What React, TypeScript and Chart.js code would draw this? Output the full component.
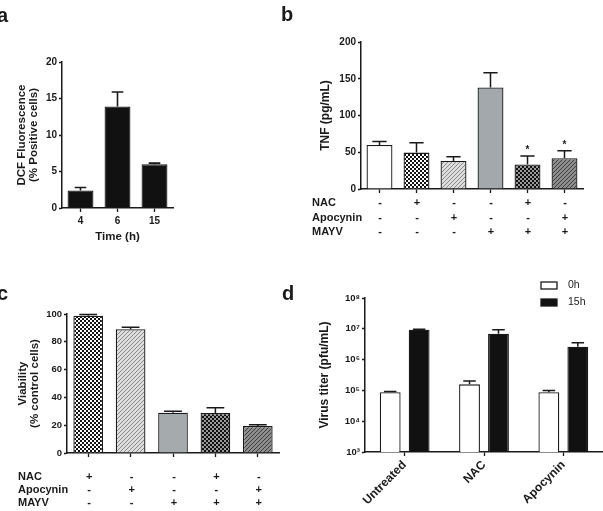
import React, { useEffect, useRef } from "react";
import { Chart, registerables } from "chart.js";

Chart.register(...registerables);

const FONT = "'Liberation Sans', Arial, Helvetica, sans-serif";
const INK = "#1a1a1a";

// ---- Panel a ----
const timeLabels = ["4", "6", "15"];
const dcfValues = [2.4, 13.9, 6.0];
const dcfErrors = [0.4, 2.0, 0.15];

// ---- Panel b ----
const tnfCategories = ["1", "2", "3", "4", "5", "6"];
const tnfValues = [60, 49.5, 38, 138, 33.5, 42];
const tnfErrors = [4.5, 13.5, 6, 20, 11.5, 10];
const tnfStars = ["", "", "", "", "*", "*"];
const nacB = ["-", "+", "-", "-", "+", "-"];
const apoB = ["-", "-", "+", "-", "-", "+"];
const mayvB = ["-", "-", "-", "+", "+", "+"];

// ---- Panel c ----
const viaCategories = ["1", "2", "3", "4", "5"];
const viaValues = [98.8, 89, 29, 28.8, 19.4];
const viaErrors = [0.8, 1.4, 1.0, 3.8, 1.0];
const nacC = ["+", "-", "-", "+", "-"];
const apoC = ["-", "+", "-", "-", "+"];
const mayvC = ["-", "-", "+", "+", "+"];

// ---- Panel d ----
const treatments = ["Untreated", "NAC", "Apocynin"];
const titer0h = [8.7e4, 1.57e5, 8.7e4];
const titer0hErr = [0.5e4, 0.45e5, 1.2e4];
const titer15h = [9.3e6, 6.9e6, 2.6e6];
const titer15hErr = [0.4e6, 2.5e6, 0.9e6];
const logTicks = [1e3, 1e4, 1e5, 1e6, 1e7, 1e8];
const SUP = ["⁰", "¹", "²", "³", "⁴", "⁵", "⁶", "⁷", "⁸", "⁹"];

Chart.defaults.font.family = FONT;

function makePattern(ctx: CanvasRenderingContext2D, kind: string): CanvasPattern {
  const t = document.createElement("canvas");
  const s = 4;
  t.width = s;
  t.height = s;
  const g = t.getContext("2d")!;
  if (kind === "checkLight" || kind === "checkDark") {
    g.fillStyle = kind === "checkLight" ? "#ffffff" : "#111111";
    g.fillRect(0, 0, s, s);
    g.fillStyle = kind === "checkLight" ? "#111111" : "#9a9a9a";
    g.fillRect(0, 0, 2, 2);
    g.fillRect(2, 2, 2, 2);
  } else {
    g.fillStyle = kind === "hatchLight" ? "#dedede" : "#8e8e8e";
    g.fillRect(0, 0, s, s);
    g.strokeStyle = kind === "hatchLight" ? "#8a8a8a" : "#3e3e3e";
    g.lineWidth = 1;
    g.beginPath();
    g.moveTo(-1, s + 1);
    g.lineTo(s + 1, -1);
    g.moveTo(-1, 1);
    g.lineTo(1, -1);
    g.moveTo(s - 1, s + 1);
    g.lineTo(s + 1, s - 1);
    g.stroke();
  }
  return ctx.createPattern(t, "repeat")!;
}

const errorPlugin = {
  id: "errbars",
  afterDatasetsDraw(chart: any, _a: any, opts: any) {
    const ctx = chart.ctx;
    chart.data.datasets.forEach((ds: any, di: number) => {
      if (!ds.errors) return;
      const meta = chart.getDatasetMeta(di);
      const ys = chart.scales[meta.yAxisID];
      meta.data.forEach((el: any, i: number) => {
        const v = ds.data[i];
        const e = ds.errors[i];
        const yTop = ys.getPixelForValue(v + e);
        const x = el.x;
        const w = el.width * (opts.cap ?? 0.5);
        ctx.save();
        ctx.strokeStyle = INK;
        ctx.lineWidth = opts.lineWidth ?? 1.5;
        ctx.beginPath();
        ctx.moveTo(x, el.y);
        ctx.lineTo(x, yTop);
        ctx.moveTo(x - w / 2, yTop);
        ctx.lineTo(x + w / 2, yTop);
        ctx.stroke();
        if (ds.stars && ds.stars[i]) {
          ctx.fillStyle = INK;
          ctx.font = `bold 10px ${FONT}`;
          ctx.textAlign = "center";
          ctx.textBaseline = "alphabetic";
          ctx.fillText(ds.stars[i], x, yTop - 3);
        }
        ctx.restore();
      });
    });
  },
};

const rowsPlugin = {
  id: "rows",
  afterDraw(chart: any, _a: any, opts: any) {
    if (!opts || !opts.rows) return;
    const ctx = chart.ctx;
    const xs = chart.scales.x;
    const base = chart.chartArea.bottom;
    ctx.save();
    ctx.fillStyle = INK;
    ctx.textBaseline = "middle";
    opts.rows.forEach((row: any, r: number) => {
      const y = base + opts.offsets[r];
      ctx.font = `bold ${opts.labelSize}px ${FONT}`;
      ctx.textAlign = "left";
      ctx.fillText(row.label, opts.labelX, y);
      ctx.font = `bold ${opts.markSize}px ${FONT}`;
      ctx.textAlign = "center";
      row.marks.forEach((m: string, i: number) => {
        ctx.fillText(m, xs.getPixelForValue(i) + opts.dx, y);
      });
    });
    ctx.restore();
  },
};

const boxLegendPlugin = {
  id: "boxLegend",
  afterDraw(chart: any, _a: any, opts: any) {
    if (!opts || opts.x === undefined) return;
    const ctx = chart.ctx;
    ctx.save();
    chart.data.datasets.forEach((ds: any, i: number) => {
      const y = opts.y + i * opts.gap;
      ctx.fillStyle = ds.backgroundColor;
      ctx.fillRect(opts.x, y, opts.w, opts.h);
      ctx.strokeStyle = INK;
      ctx.lineWidth = 1.3;
      ctx.strokeRect(opts.x, y, opts.w, opts.h);
      ctx.fillStyle = INK;
      ctx.font = `${opts.size}px ${FONT}`;
      ctx.textAlign = "left";
      ctx.textBaseline = "middle";
      ctx.fillText(ds.label, opts.textX, y + opts.h / 2);
    });
    ctx.restore();
  },
};

const tickFont = (size: number) => ({ family: FONT, size, weight: "bold" as const });
const titleFont = (size: number) => ({ family: FONT, size, weight: "bold" as const, lineHeight: 1.05 });

function yAxis(width: number, title: string | string[], titleSize: number, tickSize: number, extra: any) {
  return {
    afterFit: (s: any) => {
      s.width = width;
    },
    grid: { drawOnChartArea: false, drawTicks: true, tickLength: 3, tickWidth: 1.3, tickColor: INK },
    border: { display: true, color: INK, width: 1.5 },
    ticks: { color: INK, font: tickFont(tickSize), padding: 2 },
    title: { display: true, text: title, color: INK, font: titleFont(titleSize), padding: 0 },
    ...extra,
  };
}

function xAxis(height: number, extra: any) {
  return {
    afterFit: (s: any) => {
      s.height = height;
    },
    offset: true,
    grid: { offset: false, drawOnChartArea: false, drawTicks: true, tickLength: 4, tickWidth: 1.3, tickColor: INK },
    border: { display: true, color: INK, width: 1.5 },
    ...extra,
  };
}

const basePlugins = { legend: { display: false }, tooltip: { enabled: false } };

function buildA(_ctx: CanvasRenderingContext2D) {
  return {
    type: "bar",
    data: {
      labels: timeLabels,
      datasets: [
        {
          data: dcfValues,
          errors: dcfErrors,
          backgroundColor: "#111111",
          borderColor: INK,
          borderWidth: 1.2,
          categoryPercentage: 1,
          barPercentage: 0.7,
        },
      ],
    },
    options: {
      animation: false,
      responsive: false,
      devicePixelRatio: 1,
      layout: { padding: { left: 16, top: 62, right: 27, bottom: 7 } },
      plugins: { ...basePlugins, errbars: { cap: 0.45, lineWidth: 1.6 } },
      scales: {
        x: xAxis(35, {
          ticks: { color: INK, font: tickFont(10), padding: 3 },
          title: { display: true, text: "Time (h)", color: INK, font: titleFont(11.5), padding: 0 },
        }),
        y: yAxis(46, ["DCF Fluorescence", "(% Positive cells)"], 11.5, 10, {
          min: 0,
          max: 20,
          ticks: { color: INK, font: tickFont(10), padding: 2, stepSize: 5 },
        }),
      },
    },
    plugins: [errorPlugin],
  };
}

function buildB(ctx: CanvasRenderingContext2D) {
  const fills = [
    "#ffffff",
    makePattern(ctx, "checkLight"),
    makePattern(ctx, "hatchLight"),
    "#a2a8ab",
    makePattern(ctx, "checkDark"),
    makePattern(ctx, "hatchDark"),
  ];
  return {
    type: "bar",
    data: {
      labels: tnfCategories,
      datasets: [
        {
          data: tnfValues,
          errors: tnfErrors,
          stars: tnfStars,
          backgroundColor: fills,
          borderColor: INK,
          borderWidth: 1.3,
          categoryPercentage: 1,
          barPercentage: 0.7,
        },
      ],
    },
    options: {
      animation: false,
      responsive: false,
      devicePixelRatio: 1,
      layout: { padding: { left: 29.7, top: 42, right: 20, bottom: 51 } },
      plugins: {
        ...basePlugins,
        errbars: { cap: 0.55, lineWidth: 1.5 },
        rows: {
          labelX: 22,
          labelSize: 11,
          markSize: 11,
          dx: 0.5,
          offsets: [14, 29, 43],
          rows: [
            { label: "NAC", marks: nacB },
            { label: "Apocynin", marks: apoB },
            { label: "MAYV", marks: mayvB },
          ],
        },
      },
      scales: {
        x: xAxis(10, { ticks: { display: false } }),
        y: yAxis(41.3, "TNF (pg/mL)", 12, 10, {
          min: 0,
          max: 200,
          ticks: { color: INK, font: tickFont(10), padding: 2, stepSize: 50 },
        }),
      },
    },
    plugins: [errorPlugin, rowsPlugin],
  };
}

function buildC(ctx: CanvasRenderingContext2D) {
  const fills = [
    makePattern(ctx, "checkLight"),
    makePattern(ctx, "hatchLight"),
    "#a5aaad",
    makePattern(ctx, "checkDark"),
    makePattern(ctx, "hatchDark"),
  ];
  return {
    type: "bar",
    data: {
      labels: viaCategories,
      datasets: [
        {
          data: viaValues,
          errors: viaErrors,
          backgroundColor: fills,
          borderColor: INK,
          borderWidth: 1.3,
          categoryPercentage: 1,
          barPercentage: 0.7,
        },
      ],
    },
    options: {
      animation: false,
      responsive: false,
      devicePixelRatio: 1,
      layout: { padding: { left: 17, top: 54, right: 21, bottom: 48 } },
      plugins: {
        ...basePlugins,
        errbars: { cap: 0.6, lineWidth: 1.5 },
        rows: {
          labelX: 18,
          labelSize: 11,
          markSize: 11,
          dx: 1,
          offsets: [24, 37, 50],
          rows: [
            { label: "NAC", marks: nacC },
            { label: "Apocynin", marks: apoC },
            { label: "MAYV", marks: mayvC },
          ],
        },
      },
      scales: {
        x: xAxis(10, { ticks: { display: false } }),
        y: yAxis(50, ["Viability", "(% control cells)"], 11.5, 9.5, {
          min: 0,
          max: 100,
          ticks: { color: INK, font: tickFont(9.5), padding: 2, stepSize: 20 },
        }),
      },
    },
    plugins: [errorPlugin, rowsPlugin],
  };
}

function buildD(_ctx: CanvasRenderingContext2D) {
  return {
    type: "bar",
    data: {
      labels: treatments,
      datasets: [
        {
          label: "0h",
          data: titer0h,
          errors: titer0hErr,
          backgroundColor: "#ffffff",
          borderColor: INK,
          borderWidth: 1.3,
          categoryPercentage: 0.73,
          barPercentage: 0.72,
        },
        {
          label: "15h",
          data: titer15h,
          errors: titer15hErr,
          backgroundColor: "#111111",
          borderColor: INK,
          borderWidth: 1.3,
          categoryPercentage: 0.73,
          barPercentage: 0.72,
        },
      ],
    },
    options: {
      animation: false,
      responsive: false,
      devicePixelRatio: 1,
      layout: { padding: { left: 18.7, top: 38, right: 0, bottom: 0 } },
      plugins: {
        ...basePlugins,
        errbars: { cap: 0.6, lineWidth: 1.5 },
        boxLegend: { x: 241, y: 22, gap: 17, w: 16, h: 7, textX: 268, size: 10.5 },
      },
      scales: {
        x: xAxis(59, {
          ticks: { color: INK, font: tickFont(12), padding: 2, minRotation: 45, maxRotation: 45 },
        }),
        y: yAxis(46.3, "Virus titer (pfu/mL)", 12, 10, {
          type: "logarithmic",
          min: 1e3,
          max: 1e8,
          afterBuildTicks: (s: any) => {
            s.ticks = logTicks.map((v) => ({ value: v }));
          },
          ticks: {
            color: INK,
            font: tickFont(9.5),
            padding: 2,
            callback: (v: any) => "10" + SUP[Math.round(Math.log10(Number(v)))],
          },
        }),
      },
    },
    plugins: [errorPlugin, boxLegendPlugin],
  };
}

type Box = { left: number; top: number; width: number; height: number };

function ChartBox({ box, build }: { box: Box; build: (ctx: CanvasRenderingContext2D) => any }) {
  const ref = useRef<HTMLCanvasElement>(null);
  useEffect(() => {
    const canvas = ref.current!;
    const ctx = canvas.getContext("2d")!;
    const chart = new Chart(ctx, build(ctx));
    return () => chart.destroy();
  }, []);
  return (
    <canvas
      ref={ref}
      width={box.width}
      height={box.height}
      style={{ position: "absolute", left: box.left, top: box.top, width: box.width, height: box.height }}
    />
  );
}

const letterStyle = (left: number, baseline: number): React.CSSProperties => ({
  position: "absolute",
  left,
  top: baseline - 17,
  fontFamily: FONT,
  fontWeight: "bold",
  fontSize: 20,
  lineHeight: "20px",
  color: INK,
});

export default function App() {
  return (
    <div
      style={{
        position: "fixed",
        left: 0,
        top: 0,
        width: 603,
        height: 511,
        background: "#ffffff",
        overflow: "hidden",
      }}
    >
      <ChartBox box={{ left: 0, top: 0, width: 200, height: 250 }} build={buildA} />
      <ChartBox box={{ left: 290, top: 0, width: 313, height: 250 }} build={buildB} />
      <ChartBox box={{ left: 0, top: 260, width: 300, height: 251 }} build={buildC} />
      <ChartBox box={{ left: 300, top: 260, width: 303, height: 251 }} build={buildD} />
      <div style={letterStyle(-3, 22)}>a</div>
      <div style={letterStyle(281, 21)}>b</div>
      <div style={letterStyle(-3, 300)}>c</div>
      <div style={letterStyle(282, 300)}>d</div>
    </div>
  );
}
